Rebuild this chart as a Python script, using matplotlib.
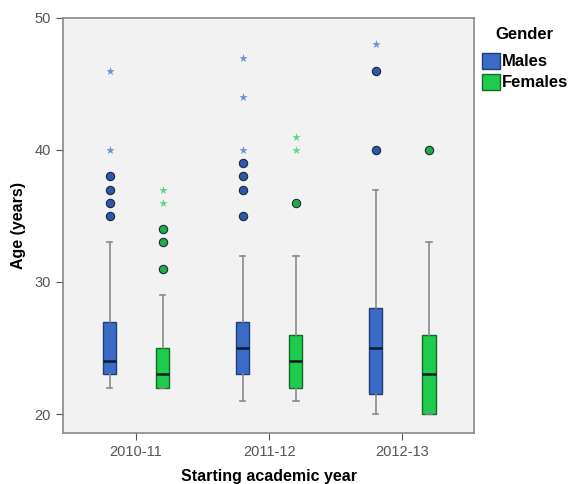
import matplotlib
matplotlib.use("Agg")
import matplotlib.pyplot as plt
from matplotlib.patches import Patch

plt.rcParams['font.family'] = ['Liberation Sans', 'DejaVu Sans']

years = ["2010-11", "2011-12", "2012-13"]
genders = ["Males", "Females"]

# five-number summaries [whisker_low, q1, median, q3, whisker_high]
males_stats = [[22, 23, 24, 27, 33], [21, 23, 25, 27, 32], [20, 21.5, 25, 28, 37]]
females_stats = [[22, 22, 23, 25, 29], [21, 22, 24, 26, 32], [20, 20, 23, 26, 33]]

males_circles = [[35, 36, 37, 38], [35, 37, 38, 39], [40, 46]]
males_stars = [[40, 46], [40, 44, 47], [48]]
females_circles = [[31, 33, 34], [36], [40]]
females_stars = [[36, 37], [40, 41], []]

colors = {"Males": "#3a6cc6", "Females": "#1fcb4c"}
edge = {"Males": "#1f3d7a", "Females": "#136b2a"}
star_col = {"Males": "#6f8fd6", "Females": "#5ed88a"}
circ_col = {"Males": "#2f58a8", "Females": "#1fae45"}

fig = plt.figure(figsize=(5.72, 4.84), dpi=100)
ax = fig.add_axes([0.110, 0.105, 0.719, 0.858])
ax.set_facecolor("#f2f2f2")

offset = 0.2
width = 0.1
for g, stats_all, circ_all, star_all, sign in [
        ("Males", males_stats, males_circles, males_stars, -1),
        ("Females", females_stats, females_circles, females_stars, 1)]:
    bstats = []
    positions = []
    for i, s in enumerate(stats_all):
        bstats.append({"whislo": s[0], "q1": s[1], "med": s[2], "q3": s[3],
                       "whishi": s[4], "fliers": []})
        positions.append(i + sign * offset)
    ax.bxp(bstats, positions=positions, widths=width, patch_artist=True,
           showfliers=False,
           boxprops=dict(facecolor=colors[g], edgecolor=edge[g], linewidth=1.0),
           medianprops=dict(color="#0a1a2a", linewidth=1.8),
           whiskerprops=dict(color="#8a8a8a", linewidth=1.2),
           capprops=dict(color="#8a8a8a", linewidth=1.2),
           capwidths=0.04, manage_ticks=False, zorder=3)
    for i, (circs, stars) in enumerate(zip(circ_all, star_all)):
        x = i + sign * offset
        if circs:
            ax.scatter([x] * len(circs), circs, s=36, marker="o",
                       facecolor=circ_col[g], edgecolor="#1a2a3a",
                       linewidth=0.8, zorder=4)
        if stars:
            ax.scatter([x] * len(stars), stars, s=40, marker="*",
                       color=star_col[g], linewidth=0, zorder=4)

ax.set_xlim(-0.55, 2.54)
ax.set_ylim(18.55, 50)
ax.set_xticks(range(len(years)))
ax.set_xticklabels(years)
ax.set_yticks([20, 30, 40, 50])
ax.tick_params(axis="both", colors="#555555", labelsize=10.5, length=5,
               labelcolor="#555555")
for sp in ax.spines.values():
    sp.set_color("#888888")
    sp.set_linewidth(1.2)

ax.set_xlabel("Starting academic year", fontsize=11.5, fontweight="bold",
              labelpad=7)
ax.set_ylabel("Age (years)", fontsize=11.5, fontweight="bold", labelpad=6)

handles = [Patch(facecolor=colors[g], edgecolor=edge[g], label=g) for g in genders]
leg = fig.legend(handles=handles, title="Gender", loc="upper left",
                 bbox_to_anchor=(0.842, 0.945), frameon=False,
                 prop={"weight": "bold", "size": 12},
                 title_fontproperties={"weight": "bold", "size": 12},
                 handlelength=1.1, handleheight=1.1, handletextpad=0.1,
                 labelspacing=0.25, borderaxespad=0, borderpad=0)
leg._legend_box.sep = 8

fig.savefig("out.png", dpi=100)
